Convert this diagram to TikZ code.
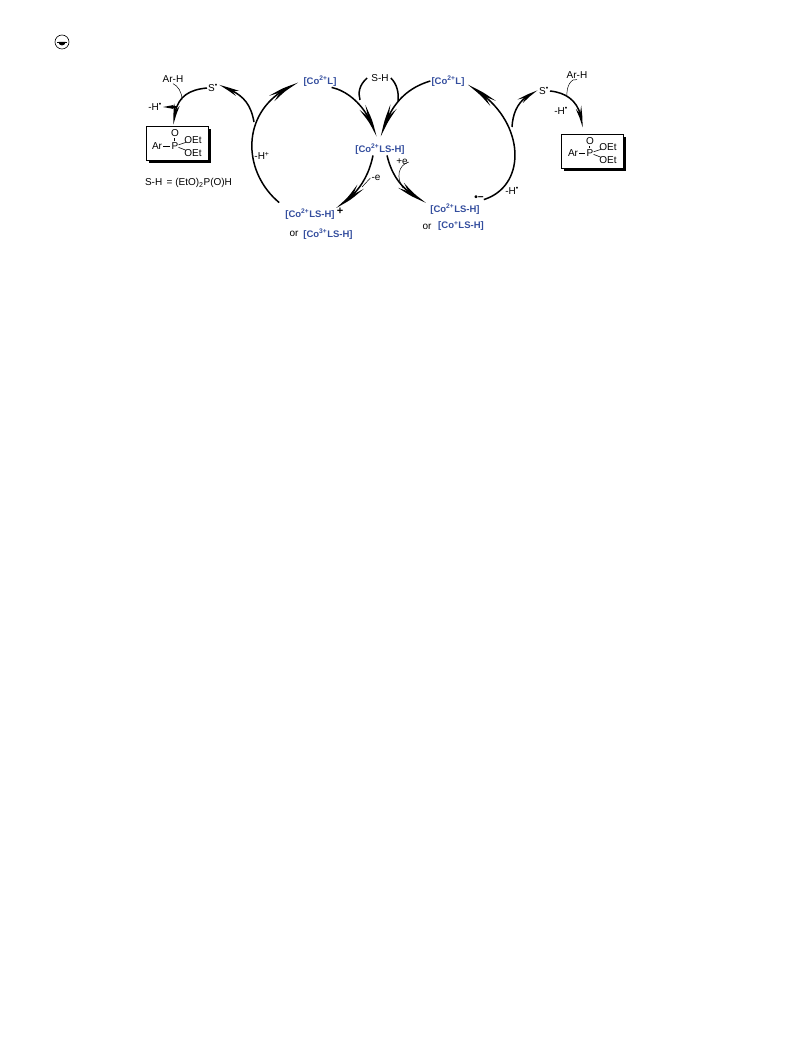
\documentclass[tikz,border=0pt]{standalone}
\usepackage{fontspec}
\setmainfont{Liberation Sans}
\usetikzlibrary{arrows.meta,bending}
\definecolor{coblue}{RGB}{52,78,158}
\tikzset{
	lab/.style={inner sep=1pt,font=\fontsize{10}{11}\selectfont},
	co/.style={inner sep=1pt,text=coblue,font=\fontsize{9.5}{11}\selectfont\bfseries},
	boxed/.style={draw=black,line width=0.7pt,fill=white,minimum width=62pt,minimum height=34pt,inner sep=0},
	shadowbox/.style={fill=black,minimum width=62pt,minimum height=34pt,inner sep=0},
	bond/.style={line width=0.6pt},
	slant bond/.style={line width=0.6pt,shorten <=-1pt,shorten >=-3pt},
	thin curve/.style={line width=0.5pt},
	cyc/.style={line width=1.5pt},
	head/.style={cyc,-{Stealth[length=33pt,width=7.5pt,inset=11pt,bend]}},
	small head/.style={cyc,-{Stealth[length=22pt,width=6pt,inset=7pt,bend]}},
}
\begin{document}
\begin{tikzpicture}[x=1pt,y=-1pt]
	\useasboundingbox (0,0) rectangle (791,1056);
	\node[draw,circle,line width=0.6pt,minimum size=14pt,inner sep=0] (logo) at (62,42) {};
	\draw[line width=0.5pt] ([xshift=-5pt]logo.center) -- ([xshift=5pt]logo.center);
	\fill ([xshift=-3.5pt]logo.center) arc[start angle=180,end angle=360,radius=3.5pt] -- cycle;
	\node[co] (coL1) at (320,81) {[Co\textsuperscript{2+}L]};
	\node[co] (coL2) at (448,81) {[Co\textsuperscript{2+}L]};
	\node[co] (coLS) at (380,149) {[Co\textsuperscript{2+}LS-H]};
	\node[co] (coP) at (310,214) {[Co\textsuperscript{2+}LS-H]};
	\node[co] (coN) at (455,209) {[Co\textsuperscript{2+}LS-H]};
	\node[co] (co3) at (328,234) {[Co\textsuperscript{3+}LS-H]};
	\node[co] (co1) at (461,226) {[Co\textsuperscript{+}LS-H]};
	\node[lab,font=\fontsize{11}{11}\selectfont\bfseries] (plus) at (340,211) {+};
	\node[lab,font=\fontsize{10}{11}\selectfont\bfseries] (rad) at (479,198) {\textbullet{}−};
	\node[lab] (or1) at (294,234) {or};
	\node[lab,font=\fontsize{10}{11}\rmfamily] (or2) at (427,227) {or};
	\node[lab] (SH) at (380,78) {S-H};
	\node[lab] (S1) at (213,88) {S\textsuperscript{\textbullet}};
	\node[lab] (S2) at (544,91) {S\textsuperscript{\textbullet}};
	\node[lab] (ArH1) at (173,79) {Ar-H};
	\node[lab] (ArH2) at (577,75) {Ar-H};
	\node[lab] (mH1) at (155,107) {-H\textsuperscript{\textbullet}};
	\node[lab] (mH2) at (262,156) {-H\textsuperscript{+}};
	\node[lab] (mH3) at (512,191) {-H\textsuperscript{\textbullet}};
	\node[lab] (mH4) at (561,111) {-H\textsuperscript{\textbullet}};
	\node[lab] (me) at (376,178) {-e};
	\node[lab] (pe) at (402,162) {+e};
	\node[lab] (def) at (188.5,183) {S-H\, = (EtO)\textsubscript{2}P(O)H};
	\node[shadowbox] (sh1) at (180,146) {};
	\node[boxed] (box1) at (177,143) {};
	\node[shadowbox] (sh2) at (595,154) {};
	\node[boxed] (box2) at (592,151) {};
	\node[lab] (Ar1) at (157,146) {Ar};
	\node[lab] (P1) at (175,146) {P};
	\node[lab] (O1) at (175,133) {O};
	\node[lab] (Et1a) at (193,140) {OEt};
	\node[lab] (Et1b) at (193,153) {OEt};
	\node[lab] (Ar2) at (573,153) {Ar};
	\node[lab] (P2) at (590,153) {P};
	\node[lab] (O2) at (590,141) {O};
	\node[lab] (Et2a) at (608,147) {OEt};
	\node[lab] (Et2b) at (608,160) {OEt};
	\draw[bond] (Ar1) -- (P1);
	\draw[slant bond] (P1) -- (Et1a);
	\draw[slant bond] (P1) -- (Et1b);
	\draw[bond,double,double distance=1pt,line width=0.4pt] (P1) -- (O1);
	\draw[bond] (Ar2) -- (P2);
	\draw[slant bond] (P2) -- (Et2a);
	\draw[slant bond] (P2) -- (Et2b);
	\draw[bond,double,double distance=1pt,line width=0.4pt] (P2) -- (O2);
	\coordinate (j1) at (254,122);
	\coordinate (j2) at (360,100);
	\coordinate (j3) at (398,101);
	\coordinate (j4) at (512,127);
	\coordinate (j5) at (182,100);
	\coordinate (j6) at (567,97);
	\coordinate (j7) at (362,187);
	\coordinate (j8) at (403,188);
	\coordinate (j9) at (176,107);
	\draw[head] ([shift={(-5pt,5pt)}]coP.north west) .. controls (240,170) and (240,105) .. ([shift={(-4pt,-2pt)}]coL1.west);
	\draw[small head] (j1) .. controls (250,100) and (240,93) .. ([yshift=3pt]S1.east);
	\draw[head] ([xshift=-6pt]coL1.south east) .. controls (352,92) and (370,112) .. ([shift={(-4pt,6pt)}]coLS.north);
	\draw[head] (coL2.west) .. controls (400,90) and (388,112) .. ([shift={(1pt,6pt)}]coLS.north);
	\draw[cyc] ([xshift=-3pt]SH.west) .. controls (359,85) and (358,93) .. (j2);
	\draw[cyc] ([xshift=1pt]SH.east) .. controls (397,84) and (399,93) .. (j3);
	\draw[head] ([xshift=-7pt]coLS.south) .. controls (368,180) and (355,197) .. (coP.north east);
	\draw[head] ([xshift=7pt]coLS.south) .. controls (393,180) and (405,192) .. ([xshift=-3pt]coN.north west);
	\draw[head] ([shift={(3pt,3pt)}]coN.north east) .. controls (530,185) and (525,115) .. ([shift={(2pt,-4pt)}]coL2.east);
	\draw[small head] (j4) .. controls (513,110) and (520,97) .. (S2.west);
	\draw[small head] (S2.east) .. controls (570,93) and (582,105) .. ([shift={(-10pt,6pt)}]box2.north);
	\draw[small head] (S1.west) .. controls (185,90) and (174,100) .. ([shift={(-3pt,1pt)}]box1.north);
	\draw[cyc,-{Stealth[length=11pt,width=4pt,inset=3pt]}] (j9) -- (mH1.east);
	\draw[thin curve] (ArH1.south) .. controls (178,86) and (182,92) .. (j5);
	\draw[thin curve] (ArH2.south) .. controls (572,78) and (566,85) .. (j6);
	\draw[thin curve] (me.west) -- (j7);
	\draw[thin curve] (pe.east) .. controls (398,165) and (396,178) .. (j8);
\end{tikzpicture}
\end{document}
